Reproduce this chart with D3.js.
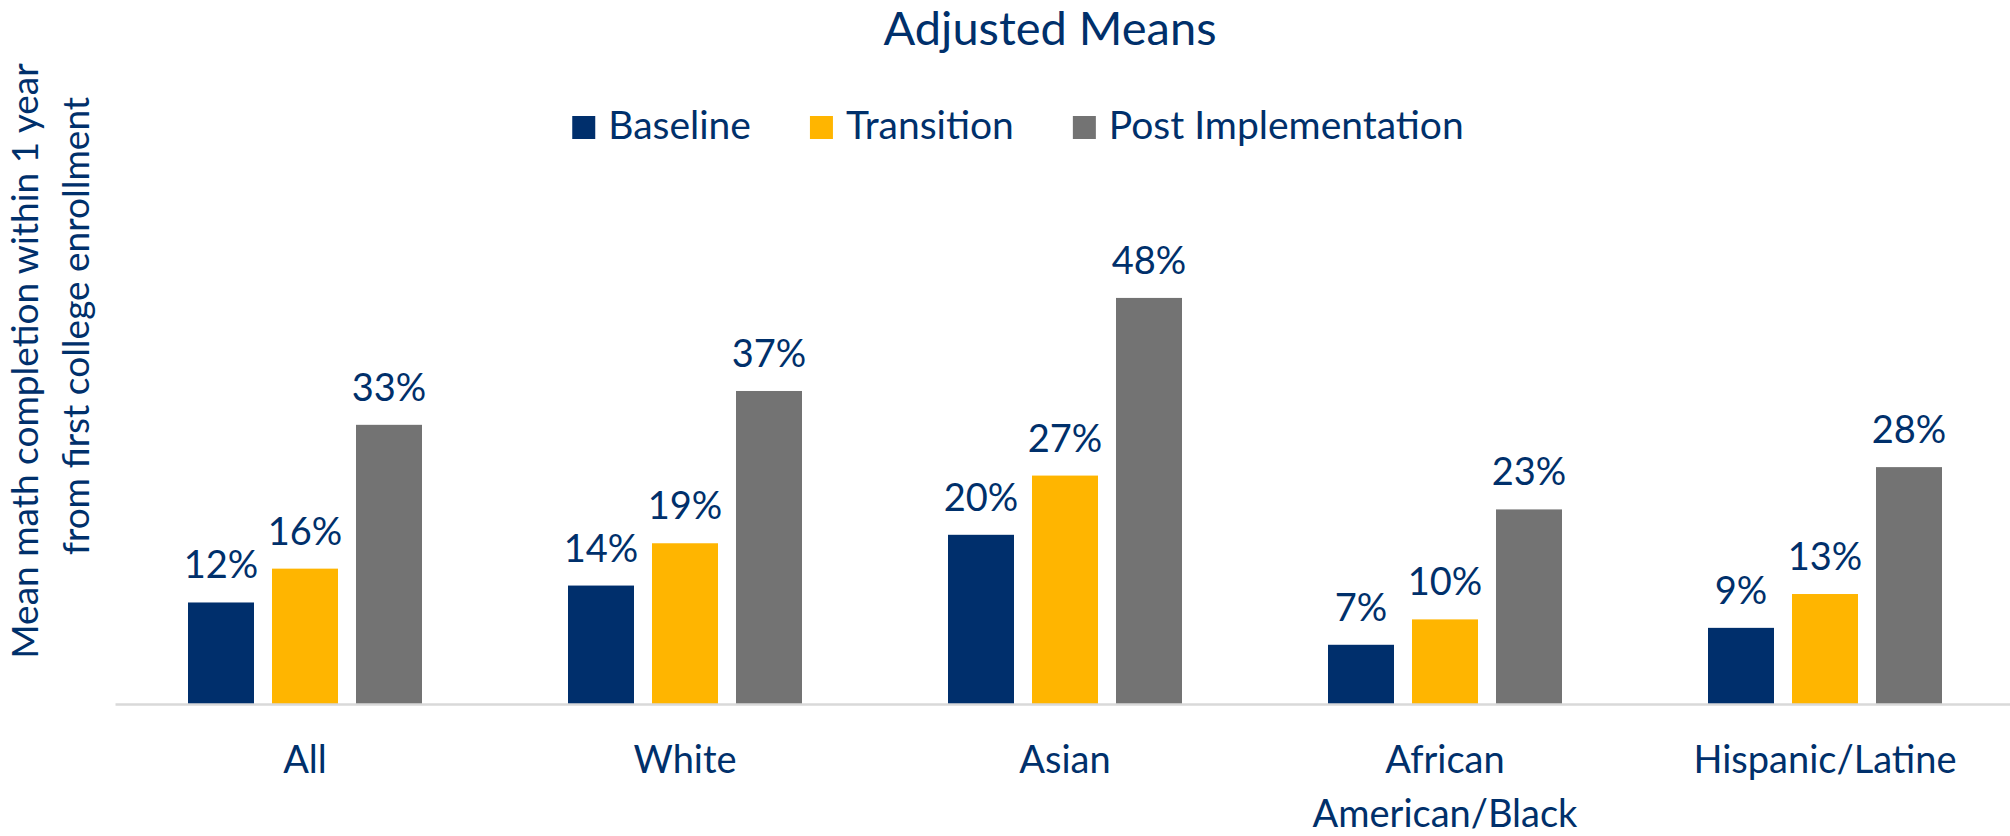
<!DOCTYPE html>
<html>
<head>
<meta charset="utf-8">
<script src="https://cdn.jsdelivr.net/npm/d3@7"></script>
<style>
  html, body { margin: 0; padding: 0; background: #ffffff; }
  svg { display: block; }
  text { font-family: "Lato", "Open Sans", sans-serif; fill: #00306B; }
</style>
</head>
<body>
<svg id="chart" width="2010" height="836"></svg>
<script>
const categories = ["All", "White", "Asian", "African\nAmerican/Black", "Hispanic/Latine"];
const seriesNames = ["Baseline", "Transition", "Post Implementation"];
const baseline = [0.12, 0.14, 0.20, 0.07, 0.09];
const transition = [0.16, 0.19, 0.27, 0.10, 0.13];
const postImplementation = [0.33, 0.37, 0.48, 0.23, 0.28];
const seriesColors = ["#002F6C", "#FFB500", "#737373"];
const chartTitle = "Adjusted Means";
const yTitleLines = ["Mean math completion within 1 year", "from first college enrollment"];

const seriesValues = [baseline, transition, postImplementation];
const data = categories.map((c, i) => ({
  category: c,
  values: seriesNames.map((s, j) => ({ series: s, value: seriesValues[j][i], color: seriesColors[j] }))
}));

const svg = d3.select("#chart");
const textColor = "#00306B";

// Scales
const x0 = d3.scaleBand().domain(categories).range([115, 2015]).paddingInner(0).paddingOuter(0);
const groupInnerWidth = 234;
const x1 = d3.scaleBand().domain(seriesNames).range([0, groupInnerWidth]).paddingInner(0.2143).paddingOuter(0);
const y = d3.scaleLinear().domain([0, 0.5]).range([704, 281]);
const groupOffset = (x0.bandwidth() - groupInnerWidth) / 2;

// Title
svg.append("text")
  .attr("x", 1050).attr("y", 45)
  .attr("text-anchor", "middle")
  .style("font-size", "47px")
  .text(chartTitle);

// Legend
const legend = svg.append("g").attr("class", "legend");
const legendFont = 39;
const items = legend.selectAll("g").data(seriesNames).join("g");
items.append("rect").attr("width", 23).attr("height", 23).attr("y", 116)
  .attr("fill", (d, i) => seriesColors[i]);
items.append("text").attr("y", 139).style("font-size", legendFont + "px").text(d => d);
let widths = [];
items.select("text").each(function() { widths.push(this.getComputedTextLength()); });
const sqW = 23, sqGap = 13, itemGap = 59;
const total = d3.sum(widths) + seriesNames.length * (sqW + sqGap) + (seriesNames.length - 1) * itemGap;
let cx = 1018 - total / 2;
items.each(function(d, i) {
  d3.select(this).attr("transform", `translate(${cx},0)`);
  d3.select(this).select("text").attr("x", sqW + sqGap);
  cx += sqW + sqGap + widths[i] + itemGap;
});

// Y-axis title
yTitleLines.forEach((line, i) => {
  const cy = i === 0 ? 361 : 326;
  const bx = i === 0 ? 38 : 89;
  svg.append("text")
    .attr("transform", `translate(${bx},${cy}) rotate(-90)`)
    .attr("text-anchor", "middle")
    .style("font-size", "37px")
    .text(line);
});

// Bars
const groups = svg.append("g").selectAll("g").data(data).join("g")
  .attr("transform", d => `translate(${x0(d.category) + groupOffset},0)`);

groups.selectAll("rect").data(d => d.values).join("rect")
  .attr("x", d => x1(d.series))
  .attr("y", d => y(d.value))
  .attr("width", x1.bandwidth())
  .attr("height", d => y(0) - y(d.value))
  .attr("fill", d => d.color);

groups.selectAll("text.val").data(d => d.values).join("text")
  .attr("class", "val")
  .attr("x", d => x1(d.series) + x1.bandwidth() / 2)
  .attr("y", d => y(d.value) - 24)
  .attr("text-anchor", "middle")
  .style("font-size", "38px")
  .text(d => d3.format(".0%")(d.value));

// X axis
const xAxis = d3.axisBottom(x0).tickSize(0).tickFormat("");
const axisG = svg.append("g").attr("transform", `translate(0,${y(0)})`).call(xAxis);
axisG.select(".domain").attr("stroke", "#D9D9D9").attr("stroke-width", 2.5);

// Category labels (multi-line)
axisG.selectAll(".tick").each(function(d) {
  const lines = d.split("\n");
  const t = d3.select(this).append("text")
    .attr("text-anchor", "middle")
    .style("font-size", "38px")
    .style("fill", textColor);
  lines.forEach((ln, k) => {
    t.append("tspan").attr("x", 0).attr("y", 69 + k * 54).text(ln);
  });
});
</script>
</body>
</html>
